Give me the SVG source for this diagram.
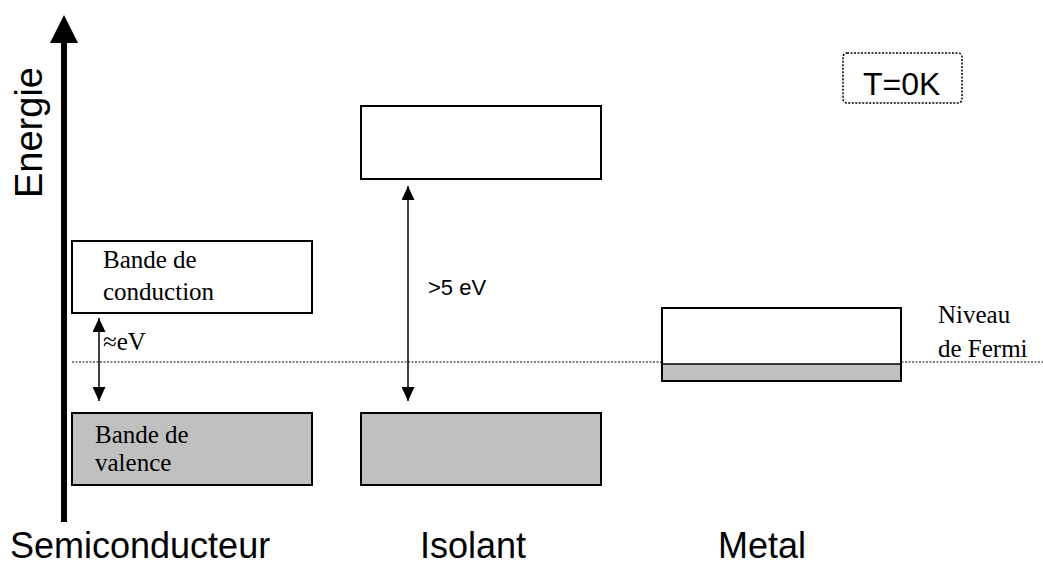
<svg xmlns="http://www.w3.org/2000/svg" width="1043" height="566" viewBox="0 0 1043 566">
<style>
.box{fill:#ffffff;stroke:#000;stroke-width:2}
.fill{fill:#c0c0c0;stroke:#000;stroke-width:2}
.serif{font-family:"Liberation Serif","Times New Roman",serif;font-size:25px;fill:#000}
.sans{font-family:"Liberation Sans",Arial,sans-serif;fill:#000}
.dbl{stroke:#000;stroke-width:1.5;fill:none;marker-start:url(#ah);marker-end:url(#ah)}
</style>
<defs>
<marker id="ah" viewBox="0 0 10 10" refX="10" refY="5" markerWidth="14" markerHeight="13" markerUnits="userSpaceOnUse" orient="auto-start-reverse" preserveAspectRatio="none">
<path d="M0,0 L10,5 L0,10 z" fill="#000"/>
</marker>
</defs>
<rect width="1043" height="566" fill="#fff"/>
<g id="axis">
<rect x="61" y="42" width="6" height="480" fill="#000"/>
<path d="M64,15 L78,43 L50,43 z" fill="#000"/>
<text class="sans" font-size="38" transform="translate(42,198) rotate(-90)">Energie</text>
</g>
<g id="fermi">
<line x1="72" y1="362" x2="1043" y2="362" stroke="#000" stroke-width="1" stroke-dasharray="2 1.5"/>
</g>
<g id="semi-conduction">
<rect class="box" x="72" y="241" width="240" height="72"/>
<text class="serif" x="103" y="268">Bande de</text>
<text class="serif" x="103" y="300">conduction</text>
</g>
<g id="semi-valence">
<rect class="fill" x="72" y="413" width="240" height="72"/>
<text class="serif" x="95" y="443">Bande de</text>
<text class="serif" x="95" y="471">valence</text>
</g>
<g id="iso-conduction">
<rect class="box" x="361" y="106" width="240" height="73"/>
</g>
<g id="iso-valence">
<rect class="fill" x="361" y="413" width="240" height="72"/>
</g>
<g id="metal">
<rect class="box" x="662" y="308" width="239" height="73"/>
<rect x="663" y="364" width="237" height="16" fill="#c0c0c0"/>
<line x1="662" y1="364" x2="901" y2="364" stroke="#000" stroke-width="1.5"/>
</g>
<g id="connectors">
<line class="dbl" x1="99" y1="318" x2="99" y2="401"/>
<line class="dbl" x1="408" y1="186" x2="408" y2="401"/>
</g>
<g id="labels">
<text class="serif" x="103" y="350">≈eV</text>
<text class="sans" font-size="22" x="428" y="295">&gt;5 eV</text>
<text class="serif" x="938" y="323">Niveau</text>
<text class="serif" x="938" y="357">de Fermi</text>
</g>
<g id="temp">
<rect x="843" y="53" width="119" height="50" rx="4" fill="none" stroke="#000" stroke-width="1.5" stroke-dasharray="2 1.5"/>
<text class="sans" font-size="32" x="863" y="95">T=0K</text>
</g>
<g id="titles">
<text class="sans" font-size="36" x="10" y="558">Semiconducteur</text>
<text class="sans" font-size="36" x="420" y="558">Isolant</text>
<text class="sans" font-size="36" x="718" y="558">Metal</text>
</g>
</svg>
